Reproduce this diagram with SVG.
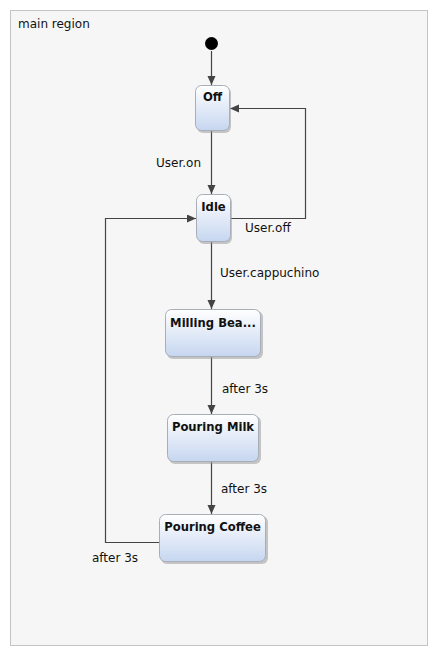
<svg xmlns="http://www.w3.org/2000/svg" width="438" height="658" viewBox="0 0 438 658">
<style>
text{font-family:"DejaVu Sans",Verdana,sans-serif;font-size:12px;fill:#111}
.t{font-weight:bold;text-anchor:middle;font-size:11.6px}
.st{fill:url(#g);stroke:#a8aeb8;stroke-width:1}
.sh{fill:#9a9a9a;opacity:0.55}
.c{fill:none;stroke:#444;stroke-width:1.2}
</style>
<defs>
<linearGradient id="g" x1="0" y1="0" x2="0" y2="1">
<stop offset="0" stop-color="#ffffff"/>
<stop offset="1" stop-color="#c6d6f0"/>
</linearGradient>
<marker id="a" markerWidth="10" markerHeight="10" refX="9" refY="4" orient="auto" markerUnits="userSpaceOnUse">
<path d="M0,0 L9,4 L0,8 Z" fill="#444"/>
</marker>
</defs>
<rect x="10.5" y="10.5" width="417" height="635" fill="#f6f6f6" stroke="#c4c4c4"/>
<text x="18" y="28">main region</text>
<g id="connectors">
<path class="c" d="M211.5,51 V85" marker-end="url(#a)"/>
<path class="c" d="M211.5,131 V194" marker-end="url(#a)"/>
<path class="c" d="M230,218.5 H305.5 V108.5 H230" marker-end="url(#a)"/>
<path class="c" d="M211.5,242 V309" marker-end="url(#a)"/>
<path class="c" d="M211.5,357 V414" marker-end="url(#a)"/>
<path class="c" d="M211.5,462 V514" marker-end="url(#a)"/>
<path class="c" d="M159,542.5 H105.5 V218.5 H196" marker-end="url(#a)"/>
<text x="156" y="167">User.on</text>
<text x="245" y="232">User.off</text>
<text x="220" y="277">User.cappuchino</text>
<text x="222" y="393">after 3s</text>
<text x="221" y="493">after 3s</text>
<text x="92" y="562">after 3s</text>
</g>
<g id="initial"><circle cx="211.5" cy="43.5" r="6.5" fill="#000"/></g>
<g id="off">
<rect class="sh" x="197" y="87" width="34" height="46" rx="6"/>
<rect class="st" x="195.5" y="85.5" width="34" height="45" rx="6"/>
<text class="t" x="212.5" y="101">Off</text>
</g>
<g id="idle">
<rect class="sh" x="198" y="196" width="34" height="48" rx="6"/>
<rect class="st" x="196.5" y="194.5" width="34" height="47" rx="6"/>
<text class="t" x="213.5" y="211">Idle</text>
</g>
<g id="milling">
<rect class="sh" x="167" y="311" width="96" height="48" rx="6"/>
<rect class="st" x="165.5" y="309.5" width="95" height="47" rx="6"/>
<text class="t" x="213" y="327">Milling Bea...</text>
</g>
<g id="milk">
<rect class="sh" x="169" y="416" width="92" height="48" rx="6"/>
<rect class="st" x="167.5" y="414.5" width="91" height="47" rx="6"/>
<text class="t" x="213" y="431">Pouring Milk</text>
</g>
<g id="coffee">
<rect class="sh" x="161" y="516" width="107" height="48" rx="6"/>
<rect class="st" x="159.5" y="514.5" width="106" height="47" rx="6"/>
<text class="t" x="212.5" y="531">Pouring Coffee</text>
</g>
</svg>
